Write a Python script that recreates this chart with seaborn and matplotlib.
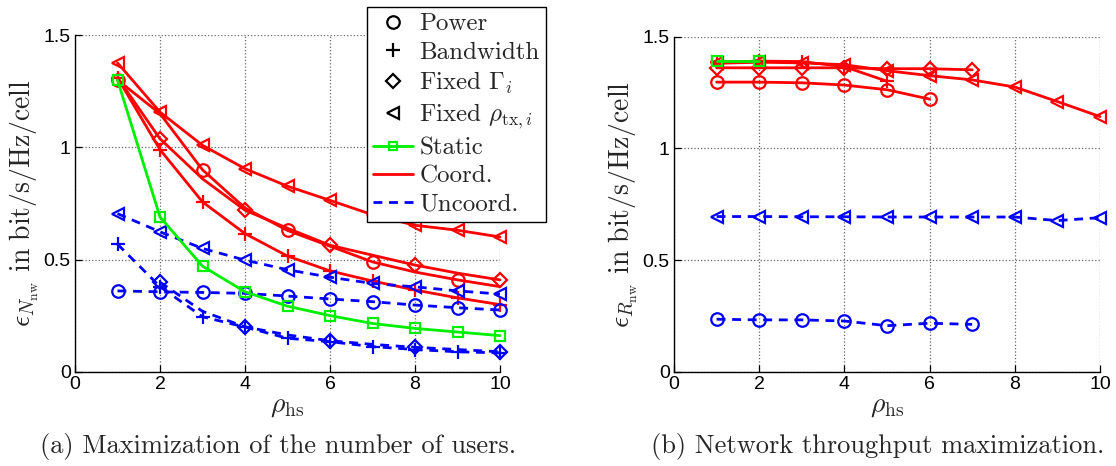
import matplotlib
matplotlib.use("Agg")
import matplotlib.pyplot as plt
from matplotlib.lines import Line2D
import numpy as np
import pandas as pd
import seaborn as sns

# ---------------- data ----------------
rho_hs = [1, 2, 3, 4, 5, 6, 7, 8, 9, 10]

# (a) number-of-users maximization, epsilon_N_nw
users_coord_power = [1.30, 1.15, 0.90, 0.73, 0.63, 0.56, 0.49, 0.445, 0.41, 0.38]
users_coord_bw = [1.31, 0.99, 0.757, 0.616, 0.516, 0.45, 0.405, 0.365, 0.33, 0.30]
users_coord_gamma = [1.31, 1.038, 0.86, 0.72, 0.64, 0.564, 0.52, 0.476, 0.44, 0.41]
users_coord_rho = [1.376, 1.157, 1.009, 0.905, 0.827, 0.764, 0.70, 0.653, 0.631, 0.601]
users_static = [1.30, 0.69, 0.471, 0.357, 0.293, 0.251, 0.216, 0.194, 0.178, 0.162]
users_uncoord_power = [0.361, 0.357, 0.354, 0.35, 0.338, 0.325, 0.313, 0.298, 0.286, 0.276]
users_uncoord_bw = [0.569, 0.38, 0.246, 0.20, 0.15, 0.135, 0.113, 0.10, 0.09, 0.085]
users_uncoord_gamma_x = [2, 3, 4, 5, 6, 7, 8, 9, 10]
users_uncoord_gamma = [0.40, 0.27, 0.201, 0.165, 0.139, 0.123, 0.11, 0.10, 0.09]
users_uncoord_rho = [0.705, 0.624, 0.55, 0.498, 0.455, 0.422, 0.394, 0.379, 0.361, 0.347]

# (b) network throughput maximization, epsilon_R_nw
tp_coord_power = [1.296, 1.296, 1.293, 1.283, 1.262, 1.22]
tp_coord_bw = [1.385, 1.39, 1.388, 1.365, 1.30]
tp_coord_gamma = [1.36, 1.36, 1.36, 1.36, 1.356, 1.356, 1.351]
tp_coord_rho = [1.38, 1.385, 1.382, 1.374, 1.347, 1.325, 1.306, 1.274, 1.209, 1.142]
tp_static = [1.391, 1.391]
tp_uncoord_power = [0.236, 0.233, 0.233, 0.228, 0.207, 0.218, 0.213]
tp_uncoord_rho = [0.695, 0.695, 0.694, 0.694, 0.693, 0.693, 0.693, 0.693, 0.677, 0.690]

x_ticks = [0, 2, 4, 6, 8, 10]
y_ticks = [0, 0.5, 1, 1.5]
y_tick_labels = ["0", "0.5", "1", "1.5"]

# ---------------- style ----------------
sns.set_theme(style="white")
plt.rcParams["font.family"] = ["cmr10", "DejaVu Serif"]
plt.rcParams["mathtext.fontset"] = "cm"
plt.rcParams["axes.formatter.use_mathtext"] = True
plt.rcParams["lines.dashed_pattern"] = [3.2, 2.4]

RED, BLUE, GREEN = "#ff0000", "#0000ff", "#00ee00"
LW = 2.0
MEW = 1.6
DIAMOND_MS = 7.5

fig = plt.figure(figsize=(11.16, 4.66), dpi=100)
ax_a = fig.add_axes([75 / 1116, 94 / 466, 425 / 1116, 337 / 466])
ax_b = fig.add_axes([674 / 1116, 94 / 466, 426 / 1116, 335.5 / 466])


def series(ax, x, y, color, marker, ls="-", ms=9, every=None):
    df = pd.DataFrame({"x": x, "y": y})
    sns.lineplot(data=df, x="x", y="y", ax=ax, color=color, linestyle=ls,
                 linewidth=LW, marker=marker, markersize=ms,
                 markerfacecolor="none", markeredgecolor=color,
                 markeredgewidth=MEW, markevery=every, legend=False,
                 clip_on=False)


# (a)
series(ax_a, rho_hs, users_coord_power, RED, "o", every=[0, 2, 4, 6, 8])
series(ax_a, rho_hs, users_coord_bw, RED, "+", ms=10)
series(ax_a, rho_hs, users_coord_gamma, RED, "D", ms=DIAMOND_MS,
       every=[1, 3, 5, 7, 9])
series(ax_a, rho_hs, users_coord_rho, RED, "<")
series(ax_a, rho_hs, users_uncoord_power, BLUE, "o", ls="--")
series(ax_a, rho_hs, users_uncoord_bw, BLUE, "+", ls="--", ms=10)
series(ax_a, users_uncoord_gamma_x, users_uncoord_gamma, BLUE, "D", ls="--",
       ms=DIAMOND_MS, every=[0, 2, 4, 6, 8])
series(ax_a, rho_hs, users_uncoord_rho, BLUE, "<", ls="--")
series(ax_a, rho_hs, users_static, GREEN, "s", ms=7)

# (b)
series(ax_b, rho_hs[:6], tp_coord_power, RED, "o")
series(ax_b, rho_hs[:5], tp_coord_bw, RED, "+", ms=10)
series(ax_b, rho_hs[:7], tp_coord_gamma, RED, "D", ms=DIAMOND_MS)
series(ax_b, rho_hs, tp_coord_rho, RED, "<")
series(ax_b, rho_hs[:7], tp_uncoord_power, BLUE, "o", ls="--")
series(ax_b, rho_hs, tp_uncoord_rho, BLUE, "<", ls="--")
series(ax_b, rho_hs[:2], tp_static, GREEN, "s", ms=7)

ylabels = [r"$\epsilon_{N_\mathrm{nw}}\ \mathrm{in\ bit/s/Hz/cell}$",
           r"$\epsilon_{R_\mathrm{nw}}\ \mathrm{in\ bit/s/Hz/cell}$"]

for ax, yl in zip([ax_a, ax_b], ylabels):
    ax.set_xlim(0, 10)
    ax.set_ylim(0, 1.5)
    ax.set_xticks(x_ticks)
    ax.set_xticklabels([str(t) for t in x_ticks])
    ax.set_yticks(y_ticks)
    ax.set_yticklabels(y_tick_labels)
    ax.tick_params(direction="in", length=5, width=0.9, colors="black",
                   labelsize=14, labelfontfamily="Liberation Sans",
                   bottom=True, left=True, top=False, right=False, pad=3)
    ax.grid(True, linestyle=":", color="#666666", linewidth=0.9)
    for side in ["top", "right"]:
        ax.spines[side].set_visible(False)
    for side in ["left", "bottom"]:
        ax.spines[side].set_color("black")
        ax.spines[side].set_linewidth(1.0)
    ax.set_facecolor("white")
    ax.set_xlabel(r"$\rho_\mathrm{hs}$", fontsize=20, labelpad=0)
    ax.set_ylabel(yl, fontsize=20, labelpad=2)

fig.text(278 / 1116, 1 - 447 / 466, r"(a) Maximization of the number of users.",
         ha="center", va="center", fontsize=19)
fig.text(878 / 1116, 1 - 447 / 466, r"(b) Network throughput maximization.",
         ha="center", va="center", fontsize=19)

handles = [
    Line2D([], [], color="black", marker="o", linestyle="none", markersize=9,
           markerfacecolor="none", markeredgewidth=MEW),
    Line2D([], [], color="black", marker="+", linestyle="none", markersize=10,
           markeredgewidth=MEW),
    Line2D([], [], color="black", marker="D", linestyle="none",
           markersize=DIAMOND_MS, markerfacecolor="none", markeredgewidth=MEW),
    Line2D([], [], color="black", marker="<", linestyle="none", markersize=9,
           markerfacecolor="none", markeredgewidth=MEW),
    Line2D([], [], color=GREEN, marker="s", linewidth=LW, markersize=6,
           markerfacecolor="none", markeredgewidth=MEW),
    Line2D([], [], color=RED, linewidth=LW),
    Line2D([], [], color=BLUE, linewidth=LW, linestyle="--"),
]
labels = ["Power", "Bandwidth", r"Fixed $\Gamma_i$", r"Fixed $\rho_{\mathrm{tx},i}$",
          "Static", "Coord.", "Uncoord."]
leg = fig.legend(handles, labels, loc="upper left",
                 bbox_to_anchor=(366.7 / 1116, 1 - 6.7 / 466),
                 frameon=True, fancybox=False, shadow=False, framealpha=1,
                 edgecolor="black", fontsize=18, handlelength=1.6,
                 handletextpad=0.25, labelspacing=0.23, borderpad=0.25,
                 borderaxespad=0)
leg.get_frame().set_linewidth(1.0)

fig.savefig("out.png", dpi=100, facecolor="white")
